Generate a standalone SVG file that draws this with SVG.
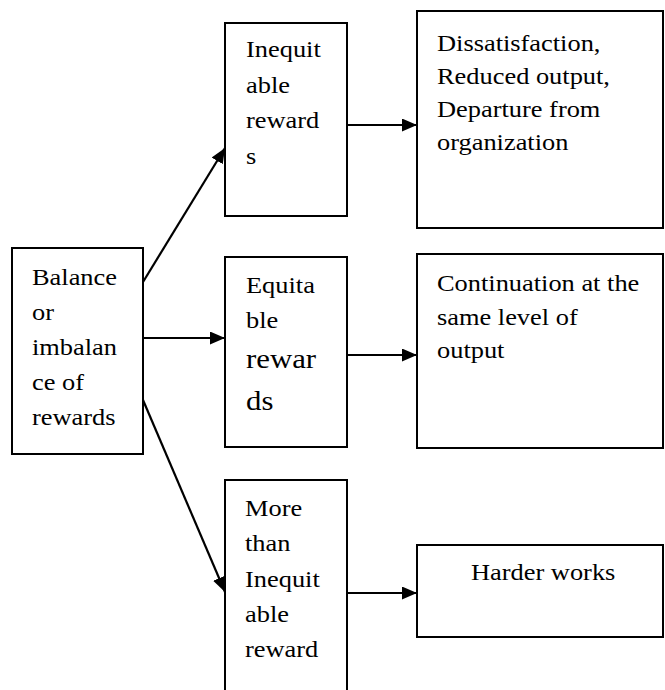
<svg xmlns="http://www.w3.org/2000/svg" width="665" height="690" viewBox="0 0 665 690">
<style>
.box{fill:#fff;stroke:#000;stroke-width:2}
text{font-family:'Liberation Serif','Times New Roman',Tinos,'DejaVu Serif',serif;font-size:24px;fill:#000}
.big{font-size:28px}
.c{stroke:#000;stroke-width:2.2;fill:none}
</style>
<defs>
<marker id="ah" markerUnits="userSpaceOnUse" markerWidth="15" markerHeight="13" refX="15" refY="6.5" orient="auto">
<path d="M0,0 L15,6.5 L0,13 Z" fill="#000"/>
</marker>
</defs>
<rect width="665" height="690" fill="#fff"/>
<g id="connectors">
<line class="c" x1="143" y1="282" x2="225" y2="148" marker-end="url(#ah)"/>
<line class="c" x1="143" y1="338" x2="225" y2="338" marker-end="url(#ah)"/>
<line class="c" x1="143" y1="400" x2="225" y2="592" marker-end="url(#ah)"/>
<line class="c" x1="347" y1="125" x2="417" y2="125" marker-end="url(#ah)"/>
<line class="c" x1="347" y1="355" x2="417" y2="355" marker-end="url(#ah)"/>
<line class="c" x1="347" y1="593" x2="417" y2="593" marker-end="url(#ah)"/>
</g>
<g id="balance">
<rect class="box" x="12" y="248" width="131" height="206"/>
<text font-family="Liberation Serif, serif" transform="translate(32 0) scale(1.1 1)"><tspan x="0" y="285">Balance</tspan><tspan x="0" y="320">or</tspan><tspan x="0" y="355">imbalan</tspan><tspan x="0" y="390">ce of</tspan><tspan x="0" y="425">rewards</tspan></text>
</g>
<g id="inequitable">
<rect class="box" x="225" y="23" width="122" height="193"/>
<text font-family="Liberation Serif, serif" transform="translate(246 0) scale(1.1 1)"><tspan x="0" y="57">Inequit</tspan><tspan x="0" y="93">able</tspan><tspan x="0" y="128">reward</tspan><tspan x="0" y="164">s</tspan></text>
</g>
<g id="equitable">
<rect class="box" x="225" y="257" width="122" height="190"/>
<text font-family="Liberation Serif, serif" transform="translate(246 0) scale(1.1 1)"><tspan x="0" y="293">Equita</tspan><tspan x="0" y="328">ble</tspan><tspan class="big" x="0" y="368">rewar</tspan><tspan class="big" x="0" y="410">ds</tspan></text>
</g>
<g id="more">
<rect class="box" x="225" y="480" width="122" height="220"/>
<text font-family="Liberation Serif, serif" transform="translate(245 0) scale(1.1 1)"><tspan x="0" y="516">More</tspan><tspan x="0" y="551">than</tspan><tspan x="0" y="587">Inequit</tspan><tspan x="0" y="622">able</tspan><tspan x="0" y="657">reward</tspan></text>
</g>
<g id="dissatisfaction">
<rect class="box" x="417" y="11" width="246" height="217"/>
<text font-family="Liberation Serif, serif" transform="translate(437 0) scale(1.1 1)"><tspan x="0" y="51">Dissatisfaction,</tspan><tspan x="0" y="84">Reduced output,</tspan><tspan x="0" y="117">Departure from</tspan><tspan x="0" y="150">organization</tspan></text>
</g>
<g id="continuation">
<rect class="box" x="417" y="254" width="246" height="194"/>
<text font-family="Liberation Serif, serif" transform="translate(437 0) scale(1.1 1)"><tspan x="0" y="291">Continuation at the</tspan><tspan x="0" y="325">same level of</tspan><tspan x="0" y="358">output</tspan></text>
</g>
<g id="harder">
<rect class="box" x="417" y="545" width="246" height="92"/>
<text font-family="Liberation Serif, serif" transform="translate(471 0) scale(1.1 1)"><tspan x="0" y="580">Harder works</tspan></text>
</g>
</svg>
